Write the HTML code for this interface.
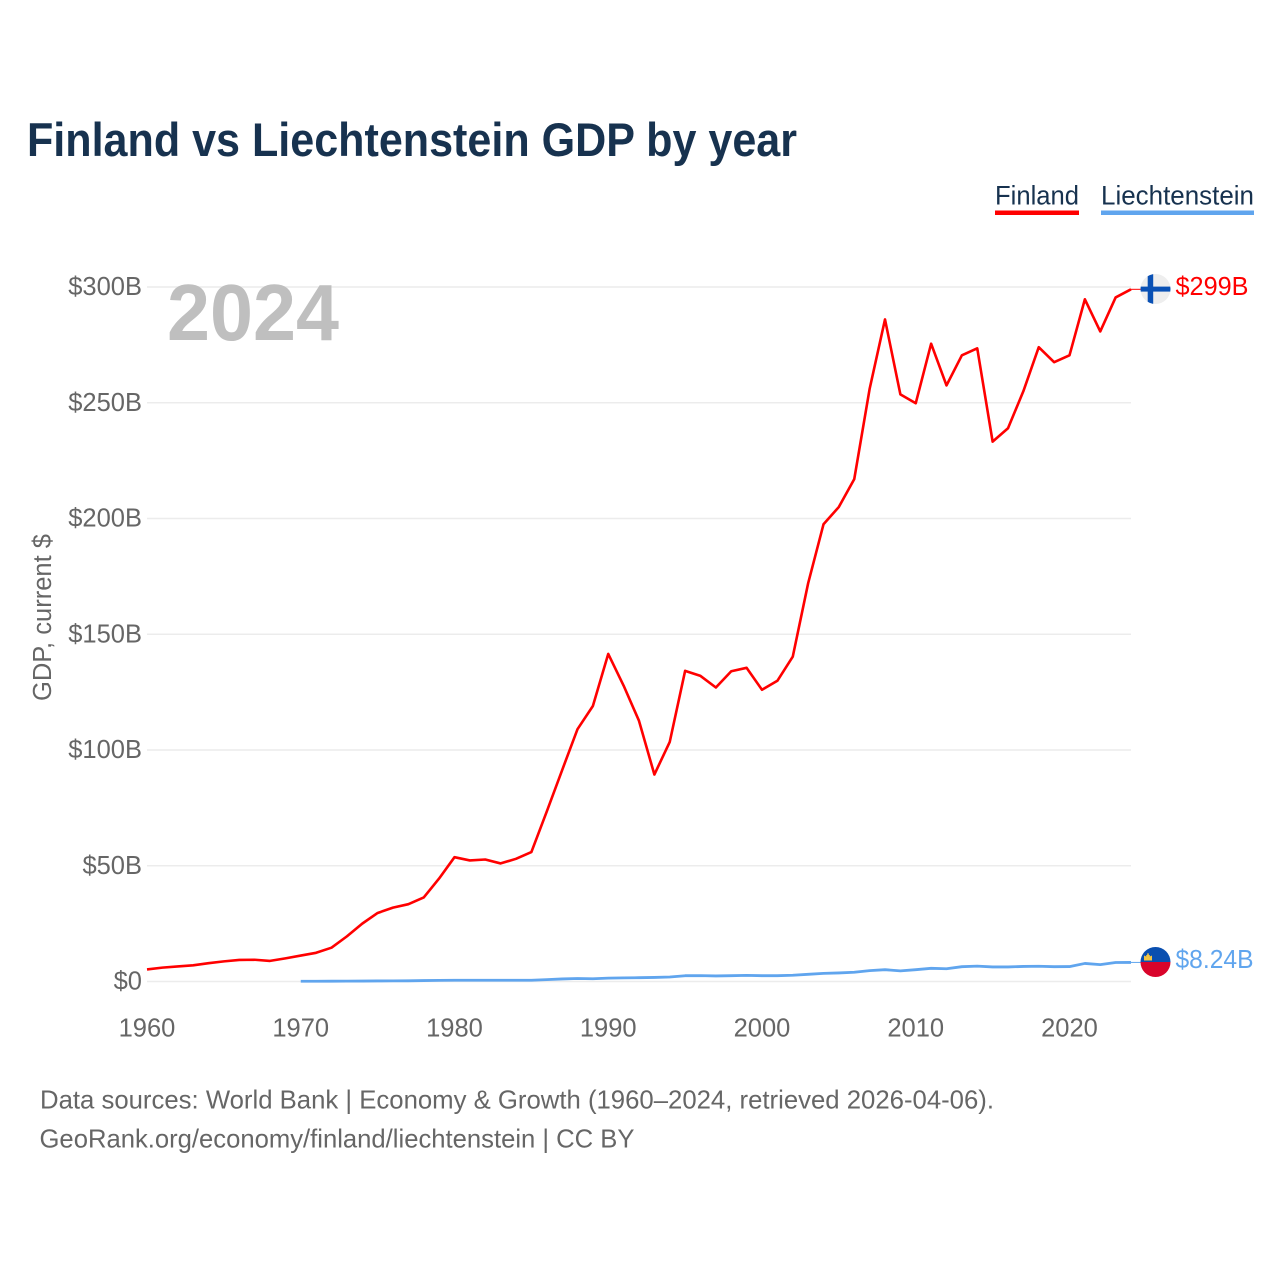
<!DOCTYPE html>
<html lang="en">
<head>
<meta charset="utf-8">
<title>Finland vs Liechtenstein GDP by year</title>
<style>
html,body{margin:0;padding:0;background:#fff}
svg{display:block}
text{font-family:"Liberation Sans",sans-serif}
</style>
</head>
<body>
<svg id="chart" xmlns="http://www.w3.org/2000/svg" width="1280" height="1280" viewBox="0 0 1280 1280">
  <defs>
    <clipPath id="fi-clip"><circle cx="1155.5" cy="289" r="15"/></clipPath>
    <clipPath id="li-clip"><circle cx="1155.5" cy="962" r="15"/></clipPath>
  </defs>
  <text x="27" y="156" font-size="47" font-weight="700" fill="#17324f" textLength="770" lengthAdjust="spacingAndGlyphs">Finland vs Liechtenstein GDP by year</text>

  <g>
    <g>
      <text x="995" y="204.5" font-size="26.5" fill="#17324f" textLength="84" lengthAdjust="spacingAndGlyphs">Finland</text>
      <rect x="995" y="210.5" width="84" height="4.5" fill="#ff0000"/>
    </g>
    <g>
      <text x="1101" y="204.5" font-size="26.5" fill="#17324f" textLength="153" lengthAdjust="spacingAndGlyphs">Liechtenstein</text>
      <rect x="1101" y="210.5" width="153" height="4.5" fill="#60a5ee"/>
    </g>
  </g>

  <g id="grid"></g>
  <g id="yticks"></g>
  <g id="xticks"></g>

  <text x="167" y="340" font-size="80" font-weight="700" fill="#bfbfbf" textLength="172" lengthAdjust="spacingAndGlyphs">2024</text>

  <text transform="translate(51 701) rotate(-90)" font-size="25.5" fill="#666666" textLength="167" lengthAdjust="spacingAndGlyphs">GDP, current $</text>

  <g id="series"></g>

  <g clip-path="url(#fi-clip)">
    <rect x="1140" y="273" width="31" height="31" fill="#eeeeee"/>
    <rect x="1147.7" y="273" width="5.5" height="31" fill="#0a51b5"/>
    <rect x="1140" y="286.6" width="31" height="5" fill="#0a51b5"/>
  </g>
  <g clip-path="url(#li-clip)">
    <rect x="1140" y="946" width="31" height="16" fill="#0a4fb0"/>
    <rect x="1140" y="962" width="31" height="16" fill="#d9042b"/>
    <path d="M1144 960.5v-5l2.2 1v-1.5h1v-1.6h1.6v1.6h1v1.5l2.2-1v5z" fill="#f4c542"/>
  </g>

  <text id="label-fi" x="1175.5" y="295" font-size="25.5" fill="#ff0000" textLength="73" lengthAdjust="spacingAndGlyphs">$299B</text>
  <text id="label-li" x="1175.5" y="968" font-size="25.5" fill="#60a5ee" textLength="78" lengthAdjust="spacingAndGlyphs">$8.24B</text>

  <g>
    <text x="40" y="1108.5" font-size="26" fill="#666666" textLength="954" lengthAdjust="spacingAndGlyphs">Data sources: World Bank | Economy &amp; Growth (1960–2024, retrieved 2026-04-06).</text>
    <text x="39.5" y="1147.5" font-size="26" fill="#666666" textLength="595" lengthAdjust="spacingAndGlyphs">GeoRank.org/economy/finland/liechtenstein | CC BY</text>
  </g>
</svg>
<script>
const yTickValues = [0, 50, 100, 150, 200, 250, 300];
const yTickLabels = ["$0", "$50B", "$100B", "$150B", "$200B", "$250B", "$300B"];
const xTickYears = [1960, 1970, 1980, 1990, 2000, 2010, 2020];
const finlandStartYear = 1960;
const finlandGdp = [5.2, 6.0, 6.5, 7.0, 7.9, 8.7, 9.3, 9.4, 8.9, 10.0, 11.2, 12.4, 14.6, 19.5, 25.0, 29.6, 31.9, 33.4, 36.3, 44.5, 53.7, 52.3, 52.7, 51.0, 53.0, 55.9, 73.4, 91.3, 109.0, 119.0, 141.5, 127.8, 112.6, 89.4, 103.5, 134.2, 132.0, 127.0, 134.0, 135.5, 126.0, 129.9, 140.3, 172.0, 197.5, 205.0, 217.0, 256.0, 286.0, 253.6, 249.8, 275.5, 257.5, 270.5, 273.5, 233.2, 239.0, 255.0, 274.0, 267.5, 270.5, 294.7, 280.8, 295.5, 299.0];
const liechtensteinStartYear = 1970;
const liechtensteinGdp = [0.1, 0.1, 0.13, 0.17, 0.2, 0.24, 0.28, 0.3, 0.4, 0.5, 0.55, 0.55, 0.55, 0.55, 0.55, 0.55, 0.8, 1.1, 1.3, 1.2, 1.45, 1.55, 1.65, 1.75, 1.95, 2.5, 2.55, 2.4, 2.5, 2.65, 2.5, 2.5, 2.7, 3.1, 3.5, 3.7, 4.0, 4.7, 5.1, 4.6, 5.1, 5.7, 5.5, 6.4, 6.65, 6.3, 6.3, 6.5, 6.6, 6.4, 6.45, 7.8, 7.3, 8.2, 8.24];

const svgNS = "http://www.w3.org/2000/svg";
const plotLeft = 147, pxPerYear = 15.375, zeroY = 981.5, pxPerBillion = 2.315;
const plotRight = xScale(2024);
function xScale(year) { return plotLeft + (year - 1960) * pxPerYear; }
function yScale(value) { return zeroY - value * pxPerBillion; }
function make(tag, attrs, parent) {
  const el = document.createElementNS(svgNS, tag);
  for (const k in attrs) el.setAttribute(k, attrs[k]);
  parent.appendChild(el);
  return el;
}
const gridGroup = document.getElementById("grid");
const yTickGroup = document.getElementById("yticks");
const xTickGroup = document.getElementById("xticks");
const seriesGroup = document.getElementById("series");

yTickValues.forEach((v, i) => {
  const line = make("line", {x1: plotLeft, x2: plotRight, y1: yScale(v), y2: yScale(v), stroke: "#ececec", "stroke-width": 1.5}, gridGroup);
  
  
  const label = make("text", {x: 142, y: yScale(v) + 8, "text-anchor": "end", "font-size": 25.5, fill: "#666666"}, yTickGroup);
  
  
  label.textContent = yTickLabels[i];
});

xTickYears.forEach((year) => {
  const label = make("text", {x: xScale(year), y: 1036.5, "text-anchor": "middle", "font-size": 25.5, fill: "#666666"}, xTickGroup);
  
  
  label.textContent = year;
});

function pathFor(values, startYear) {
  return values.map((v, i) => (i ? "L" : "M") + xScale(startYear + i).toFixed(2) + " " + yScale(v).toFixed(2)).join("");
}

const finlandLine = make("path", {d: pathFor(finlandGdp, finlandStartYear), fill: "none", stroke: "#ff0000", "stroke-width": 2.6, "stroke-linejoin": "round"}, seriesGroup);



const liechtensteinLine = make("path", {d: pathFor(liechtensteinGdp, liechtensteinStartYear), fill: "none", stroke: "#60a5ee", "stroke-width": 2.8, "stroke-linejoin": "round"}, seriesGroup);



const finlandLast = finlandGdp[finlandGdp.length - 1];
const finlandConnector = make("line", {x1: plotRight, x2: 1141, y1: yScale(finlandLast), y2: yScale(finlandLast), stroke: "#ff0000", "stroke-width": 1}, seriesGroup);



const liechtensteinLast = liechtensteinGdp[liechtensteinGdp.length - 1];
const liechtensteinConnector = make("line", {x1: plotRight, x2: 1141, y1: yScale(liechtensteinLast), y2: yScale(liechtensteinLast), stroke: "#60a5ee", "stroke-width": 1}, seriesGroup);


</script>
</body>
</html>
